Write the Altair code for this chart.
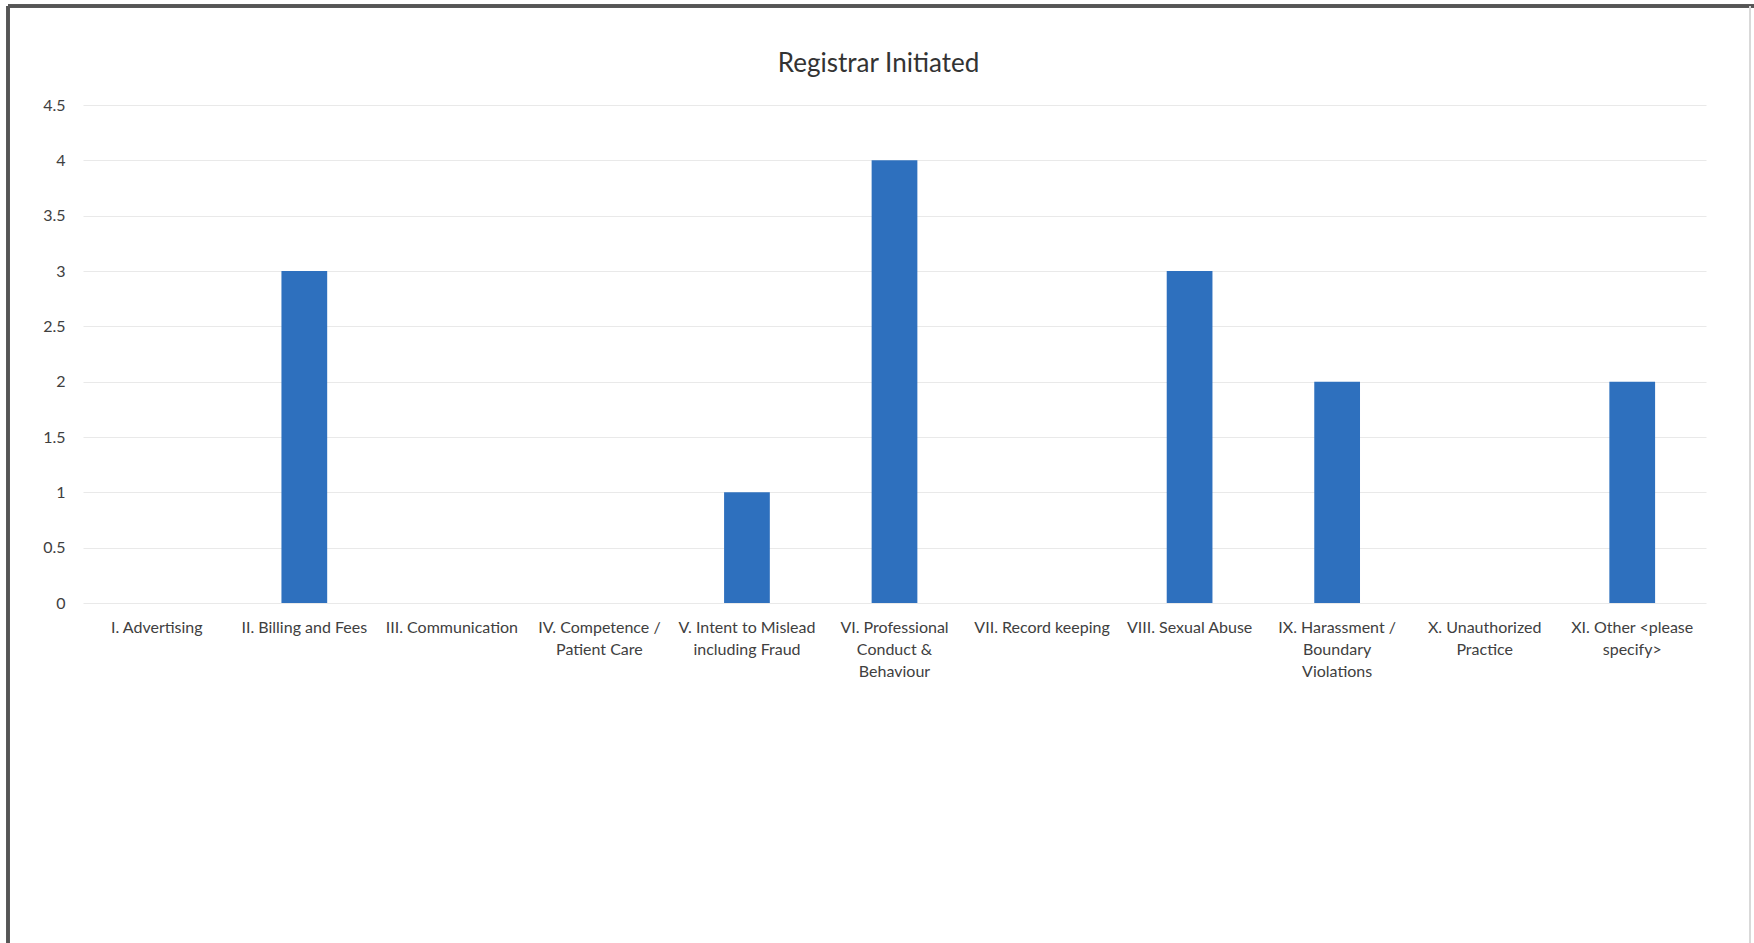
import altair as alt
import pandas as pd

# Complaint categories (line breaks mark where the axis label wraps)
categories = [
    "I. Advertising",
    "II. Billing and Fees",
    "III. Communication",
    "IV. Competence /\nPatient Care",
    "V. Intent to Mislead\nincluding Fraud",
    "VI. Professional\nConduct &\nBehaviour",
    "VII. Record keeping",
    "VIII. Sexual Abuse",
    "IX. Harassment /\nBoundary\nViolations",
    "X. Unauthorized\nPractice",
    "XI. Other <please\nspecify>",
]
counts = [0, 3, 0, 0, 1, 4, 0, 3, 2, 0, 2]
y_ticks = [0, 0.5, 1, 1.5, 2, 2.5, 3, 3.5, 4, 4.5]

df = pd.DataFrame({"category": categories, "count": counts})

FONT = "Lato"
TEXT = "#404040"
BLUE = "#2E70BE"

bars = alt.Chart(df).mark_bar(color=BLUE).encode(
    x=alt.X(
        "category:N",
        sort=None,
        title=None,
        scale=alt.Scale(paddingInner=0.69, paddingOuter=0.345),
        axis=alt.Axis(
            labelAngle=0,
            labelExpr="split(datum.label, '\\n')",
            labelLineHeight=22,
            labelFontSize=16,
            labelFont=FONT,
            labelColor=TEXT,
            labelPadding=16,
            labelLimit=0,
            ticks=False,
            domain=False,
            grid=False,
        ),
    ),
    y=alt.Y(
        "count:Q",
        title=None,
        scale=alt.Scale(domain=[0, 4.5], nice=False),
        axis=alt.Axis(
            values=y_ticks,
            format="~g",
            labelFontSize=16,
            labelFont=FONT,
            labelColor=TEXT,
            labelPadding=18,
            ticks=False,
            domain=False,
            grid=True,
            gridColor="#e9e9e9",
            gridWidth=1,
        ),
    ),
)

# Outer frame of the chart box (left and top edges darker, right edge faint)
frame_left = alt.Chart(df).mark_rule(color="#555555", strokeWidth=2.5).encode(
    x=alt.value(-75), y=alt.value(-99), y2=alt.value(838)
)
frame_top = alt.Chart(df).mark_rule(color="#555555", strokeWidth=2.5).encode(
    y=alt.value(-99), x=alt.value(-75), x2=alt.value(1671)
)
frame_right = alt.Chart(df).mark_rule(color="#d8d8d8", strokeWidth=1.5).encode(
    x=alt.value(1667), y=alt.value(-99), y2=alt.value(838)
)

chart = (
    alt.layer(bars, frame_left, frame_top, frame_right)
    .properties(
        width=1623,
        height=498,
        # the title sits inside the frame, so it is pulled down below the frame's top edge
        title=alt.TitleParams(
            "Registrar Initiated",
            font=FONT,
            fontSize=26,
            fontWeight="normal",
            color="#333333",
            anchor="middle",
            baseline="middle",
            offset=-85,
            dx=-16,
        ),
        padding={"left": 83, "top": 105, "right": 48, "bottom": 340},
        autosize=alt.AutoSizeParams(type="none"),
        background="white",
    )
    .configure_view(stroke=None)
)

chart.save("out.html", embed_options={"renderer": "svg", "actions": False})
